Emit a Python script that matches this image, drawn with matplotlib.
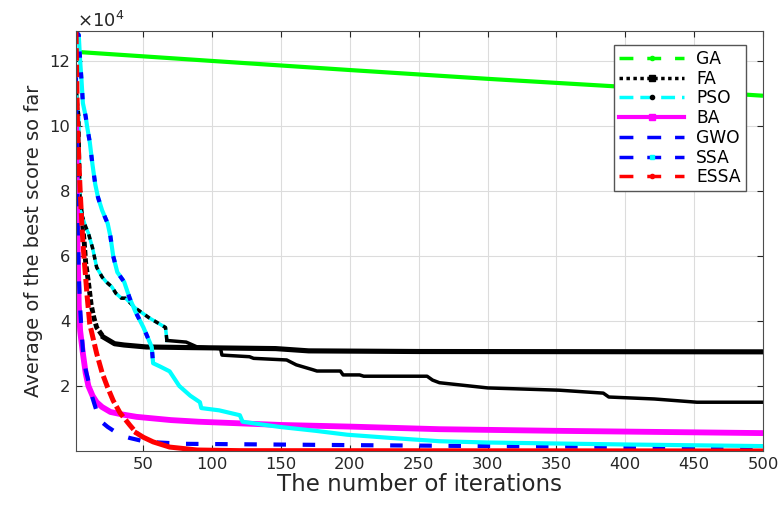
import numpy as np
import matplotlib
matplotlib.use('Agg')
import matplotlib.pyplot as plt
from matplotlib.lines import Line2D
from matplotlib.ticker import FuncFormatter

plt.rcParams['font.family'] = ['DejaVu Sans']
plt.rcParams['mathtext.fontset'] = 'dejavusans'

# 曲线数据（迭代次数, 平均最优值）
ga_x = [1, 100, 200, 300, 400, 500]
ga_y = [12.28e4, 12.0e4, 11.72e4, 11.45e4, 11.2e4, 10.93e4]

fa_x = [1, 2, 3, 5, 7, 8, 10, 12, 14, 16, 21, 29, 36, 52, 85, 146, 170, 250, 500]
fa_y = [11.0e4, 9.2e4, 8.0e4, 7.3e4, 6.4e4, 5.8e4, 5.2e4, 4.5e4, 4.1e4, 3.8e4,
        3.5e4, 3.3e4, 3.26e4, 3.2e4, 3.18e4, 3.15e4, 3.08e4, 3.06e4, 3.05e4]

pso_x = [1, 2, 3, 4, 5, 8, 10, 13, 16, 20, 23, 27, 30, 34, 37, 44, 54, 66, 67,
         81, 89, 106, 107, 127, 130, 154, 161, 173, 176, 193, 195, 207, 210,
         256, 260, 265, 300, 352, 384, 388, 421, 452, 500]
pso_y = [11.1e4, 10.7e4, 10.3e4, 7.4e4, 7.3e4, 6.9e4, 6.7e4, 6.25e4, 5.65e4,
         5.35e4, 5.2e4, 5.05e4, 4.85e4, 4.7e4, 4.7e4, 4.4e4, 4.1e4, 3.8e4,
         3.4e4, 3.35e4, 3.2e4, 3.15e4, 2.95e4, 2.9e4, 2.85e4, 2.8e4, 2.65e4,
         2.5e4, 2.46e4, 2.46e4, 2.34e4, 2.34e4, 2.3e4, 2.3e4, 2.18e4, 2.1e4,
         1.94e4, 1.87e4, 1.78e4, 1.66e4, 1.6e4, 1.5e4, 1.5e4]

ba_x = [1, 2, 3, 4, 6, 8, 10, 13, 16, 20, 26, 35, 45, 70, 90, 150, 200, 265, 350, 500]
ba_y = [10.2e4, 6.5e4, 4.5e4, 3.7e4, 3.0e4, 2.4e4, 2.0e4, 1.7e4, 1.5e4, 1.35e4,
        1.2e4, 1.12e4, 1.05e4, 0.95e4, 0.9e4, 0.8e4, 0.75e4, 0.67e4, 0.62e4, 0.55e4]

gwo_x = [1, 2, 3, 4, 5, 6, 8, 13, 18, 24, 33, 40, 52, 80, 200, 300, 500]
gwo_y = [11.5e4, 7.4e4, 5.4e4, 4.4e4, 3.7e4, 3.1e4, 2.5e4, 1.63e4, 0.95e4,
         0.74e4, 0.49e4, 0.4e4, 0.28e4, 0.22e4, 0.18e4, 0.15e4, 0.1e4]

ssa_x = [1, 3, 4, 5, 6, 8, 9, 11, 13, 15, 17, 20, 24, 26, 28, 31, 36, 40, 44,
         50, 54, 56, 57, 62, 69, 76, 84, 91, 92, 105, 120, 122, 135, 149, 175,
         198, 230, 265, 300, 400, 500]
ssa_y = [12.9e4, 12.8e4, 12.0e4, 11.4e4, 10.7e4, 10.3e4, 10.0e4, 9.5e4, 8.8e4,
         8.2e4, 7.8e4, 7.4e4, 7.0e4, 6.6e4, 6.0e4, 5.5e4, 5.2e4, 4.7e4, 4.3e4,
         3.8e4, 3.4e4, 3.2e4, 2.7e4, 2.6e4, 2.45e4, 2.0e4, 1.7e4, 1.5e4, 1.32e4,
         1.25e4, 1.1e4, 0.9e4, 0.82e4, 0.74e4, 0.62e4, 0.5e4, 0.4e4, 0.3e4,
         0.26e4, 0.2e4, 0.15e4]

essa_x = [1, 2, 3, 4, 6, 9, 11, 16, 20, 24, 28, 33, 40, 45, 50, 57, 69, 89, 120, 500]
essa_y = [12.9e4, 10.2e4, 9.0e4, 8.0e4, 6.4e4, 4.8e4, 3.9e4, 3.0e4, 2.4e4, 1.95e4,
          1.55e4, 1.17e4, 0.8e4, 0.55e4, 0.42e4, 0.28e4, 0.12e4, 0.03e4, 0.01e4, 0.0]

x_ticks = [50, 100, 150, 200, 250, 300, 350, 400, 450, 500]
y_ticks = [2e4, 4e4, 6e4, 8e4, 10e4, 12e4]
labels = ['GA', 'FA', 'PSO', 'BA', 'GWO', 'SSA', 'ESSA']

GREEN, CYAN, MAGENTA, BLUE, RED = '#00ff00', '#00ffff', '#ff00ff', '#0000ff', '#ff0000'
TXT = '#262626'


def seg(x, y, lo, hi):
    """取出 lo <= x <= hi 的那一段"""
    x = np.asarray(x)
    y = np.asarray(y)
    m = (x >= lo) & (x <= hi)
    return x[m], y[m]


fig = plt.figure(figsize=(7.82, 5.09), dpi=100)
ax = fig.add_axes([0.0972, 0.114, 0.8785, 0.825])

# GA
ax.plot(ga_x, ga_y, color=GREEN, lw=3, solid_capstyle='butt')

# FA：前段点状，后段实线
ax.plot(*seg(fa_x, fa_y, 1, 21), color='black', lw=3.5, ls=(0, (1.2, 0.5)))
ax.plot(*seg(fa_x, fa_y, 21, 500), color='black', lw=3.7)

# PSO：青色底线 + 黑色点
ax.plot(*seg(pso_x, pso_y, 1, 67), color=CYAN, lw=2.5)
ax.plot(*seg(pso_x, pso_y, 1, 67), color='black', lw=2.5, ls=(0, (1.5, 1.5)))
ax.plot(*seg(pso_x, pso_y, 67, 500), color='black', lw=2.5)

# BA
ax.plot(ba_x, ba_y, color=MAGENTA, lw=4.2)

# GWO
ax.plot(gwo_x, gwo_y, color=BLUE, lw=3, ls=(0, (3, 4)))

# SSA：青色底线 + 蓝色虚线（前段）
ax.plot(ssa_x, ssa_y, color=CYAN, lw=3)
ax.plot(*seg(ssa_x, ssa_y, 1, 57), color=BLUE, lw=3, ls=(0, (1.5, 3.5)))

# ESSA
ax.plot(*seg(essa_x, essa_y, 1, 45), color=RED, lw=3.6, ls=(0, (2.5, 0.8)))
ax.plot(*seg(essa_x, essa_y, 45, 500), color=RED, lw=3.6)

ax.set_xlim(1, 500)
ax.set_ylim(0, 12.92e4)
ax.set_xticks(x_ticks)
ax.set_yticks(y_ticks)
ax.yaxis.set_major_formatter(FuncFormatter(lambda v, p: f'{v / 1e4:g}'))
ax.tick_params(direction='in', top=True, right=True, length=4, width=0.8,
               labelsize=11.8, colors=TXT, pad=4)
ax.grid(True, color='#dcdcdc', lw=0.8)
ax.set_axisbelow(True)
for s in ax.spines.values():
    s.set_color('#4d4d4d')
    s.set_linewidth(0.8)

ax.text(0.002, 1.0, r'$\times10^{4}$', transform=ax.transAxes, ha='left',
        va='bottom', fontsize=13, color=TXT)
ax.set_xlabel('The number of iterations', fontsize=16.5, color=TXT, labelpad=1)
ax.set_ylabel('Average of the best score so far', fontsize=14, color=TXT, labelpad=5)

handles = [
    Line2D([], [], color=GREEN, lw=2.5, ls=(0, (4, 4)), marker='o', ms=3),
    Line2D([], [], color='black', lw=2.5, ls=(0, (1, 1)), marker='s', ms=5),
    Line2D([], [], color=CYAN, lw=2.5, ls=(0, (4, 2)), marker='o', ms=3,
           mfc='black', mec='black'),
    Line2D([], [], color=MAGENTA, lw=3, marker='s', ms=5),
    Line2D([], [], color=BLUE, lw=2.5, ls=(0, (4, 4))),
    Line2D([], [], color=BLUE, lw=2.5, ls=(0, (4, 4)), marker='s', ms=3,
           mfc=CYAN, mec=CYAN),
    Line2D([], [], color=RED, lw=2.5, ls=(0, (4, 4)), marker='o', ms=3),
]
leg = ax.legend(handles, labels, loc='upper right', bbox_to_anchor=(0.975, 0.967),
                borderaxespad=0, fontsize=12.3, handlelength=3.8, handletextpad=0.7,
                labelspacing=0.1, fancybox=False, framealpha=1, borderpad=0.3)
leg.get_frame().set_edgecolor('#555555')
leg.get_frame().set_linewidth(1.0)

fig.savefig('out.png', dpi=100)
